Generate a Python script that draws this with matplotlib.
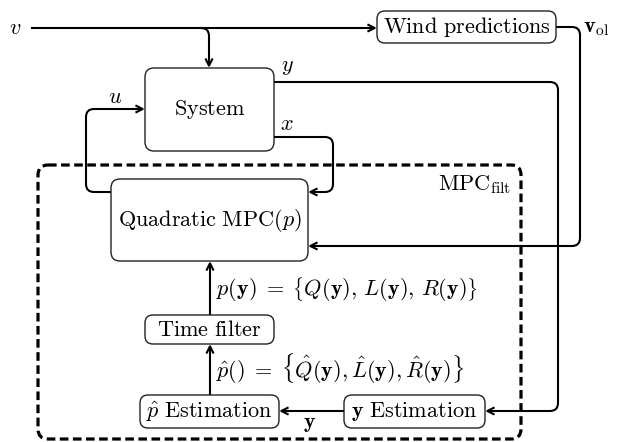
import numpy as np
import matplotlib.pyplot as plt
from matplotlib.patches import FancyBboxPatch, FancyArrowPatch
from matplotlib.path import Path

plt.rcParams['mathtext.fontset'] = 'cm'

# blocks of the diagram
box_names = ['system', 'mpc', 'wind', 'tfilt', 'pest', 'yest']
box_labels = [r'$\mathrm{System}$', r'$\mathrm{Quadratic\ MPC}(p)$',
              r'$\mathrm{Wind\ predictions}$', r'$\mathrm{Time\ filter}$',
              r'$\hat{p}\ \mathrm{Estimation}$', r'$\mathbf{y}\ \mathrm{Estimation}$']

# signal labels
sig_labels = [r'$v$', r'$y$', r'$x$', r'$u$', r'$\mathbf{v}_{\mathrm{ol}}$', r'$\mathbf{y}$',
              r'$\mathrm{MPC}_{\mathrm{filt}}$',
              r'$p(\mathbf{y})\;=\;\left\{Q(\mathbf{y}),\,L(\mathbf{y}),\,R(\mathbf{y})\right\}$',
              r'$\hat{p}()\;=\;\left\{\hat{Q}(\mathbf{y}),\hat{L}(\mathbf{y}),\hat{R}(\mathbf{y})\right\}$']

# layout (pixels, y down)
box_rect = {'system': (145, 68, 274, 151), 'mpc': (111, 179, 308, 261),
            'wind': (377, 11, 556, 43), 'tfilt': (145, 315, 274, 344),
            'pest': (140, 395, 279, 428), 'yest': (344, 395, 485, 428)}
box_round = {'system': 9, 'mpc': 9, 'wind': 8, 'tfilt': 8, 'pest': 8, 'yest': 8}
sig_pos = [(15, 28, 'center'), (287, 67, 'center'), (287, 124, 'center'),
           (115, 97, 'center'), (596, 28, 'center'), (310, 424, 'center'),
           (511, 185, 'right'), (216, 289, 'left'), (216, 368, 'left')]

fig = plt.figure(figsize=(6.29, 4.42), dpi=100)
ax = fig.add_axes([0, 0, 1, 1])
ax.set_xlim(0, 629)
ax.set_ylim(442, 0)
ax.axis('off')


def rounded(pts, r=8):
    verts = [pts[0]]
    codes = [Path.MOVETO]
    for i in range(1, len(pts) - 1):
        p0, p1, p2 = (np.array(p, float) for p in pts[i - 1:i + 2])
        d1 = (p1 - p0) / np.linalg.norm(p1 - p0)
        d2 = (p2 - p1) / np.linalg.norm(p2 - p1)
        verts += [p1 - d1 * r, p1, p1 + d2 * r]
        codes += [Path.LINETO, Path.CURVE3, Path.CURVE3]
    verts.append(pts[-1])
    codes.append(Path.LINETO)
    return Path(verts, codes)


def wire(pts, arrow=True):
    style = '->' if arrow else '-'
    ax.add_patch(FancyArrowPatch(path=rounded(pts), arrowstyle=style,
                                 mutation_scale=13, lw=1.5, color='black',
                                 shrinkA=0, shrinkB=0, capstyle='butt'))


# dashed MPC_filt frame
ax.add_patch(FancyBboxPatch((38, 165), 483, 274,
                            boxstyle='round,pad=0,rounding_size=10',
                            fc='none', ec='black', lw=2.3,
                            linestyle=(0, (2.7, 1.4))))

for name, label in zip(box_names, box_labels):
    x0, y0, x1, y1 = box_rect[name]
    ax.add_patch(FancyBboxPatch((x0, y0), x1 - x0, y1 - y0,
                                boxstyle=f'round,pad=0,rounding_size={box_round[name]}',
                                fc='white', ec='#222222', lw=1.0, zorder=3))
    ax.text((x0 + x1) / 2, (y0 + y1) / 2, label, ha='center', va='center',
            fontsize=16, zorder=4)

wire([(31, 28), (377, 28)])
wire([(200, 28), (209, 28), (209, 68)])
wire([(111, 192), (86, 192), (86, 109), (145, 109)])
wire([(274, 137), (333, 137), (333, 192), (308, 192)])
wire([(274, 82), (558, 82), (558, 411), (485, 411)])
wire([(556, 27), (580, 27), (580, 246), (308, 246)])
wire([(210, 315), (210, 261)])
wire([(210, 395), (210, 344)])
wire([(344, 411), (279, 411)])

for label, (x, y, ha) in zip(sig_labels, sig_pos):
    ax.text(x, y, label, ha=ha, va='center', fontsize=16)

fig.savefig('out.png', dpi=100)
